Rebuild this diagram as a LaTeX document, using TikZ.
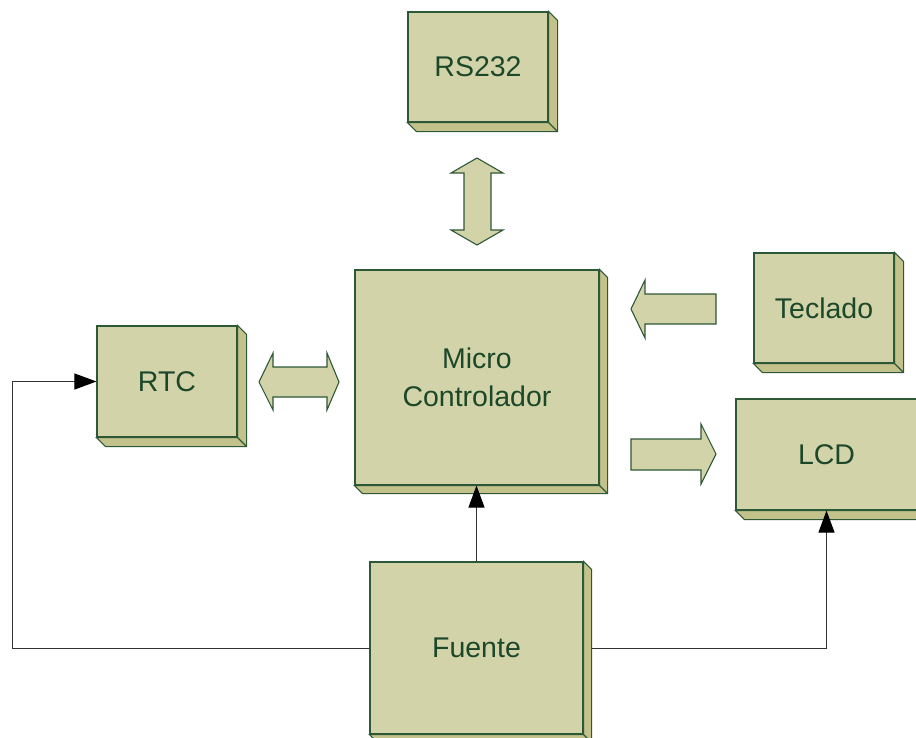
\documentclass[tikz,border=0pt]{standalone}
\usepackage{fontspec}
\setmainfont{Liberation Sans}
\usetikzlibrary{arrows.meta,calc}
\definecolor{face}{RGB}{211,211,169}
\definecolor{side}{RGB}{194,194,138}
\definecolor{edge}{RGB}{45,88,55}
\definecolor{txt}{RGB}{28,72,42}
\definecolor{wirec}{RGB}{50,50,50}
\tikzset{
 front/.style={draw=edge, fill=face, line width=1.1pt, text=txt, font=\fontsize{28.5}{38}\selectfont, align=center, inner sep=0pt},
 sideface/.style={draw=edge, fill=side, line width=1.1pt, line join=miter},
 blockarrow/.style={draw=edge, fill=face, line width=1.1pt, line join=miter},
 wire/.style={draw=wirec, line width=1pt, -{Triangle[length=22pt,width=16pt,color=black]}},
}
\newcommand\extrude[2]{%
 \path[sideface] (#1.north east) -- ++(#2,#2) -- ($(#1.south east)+(#2,#2)$) -- ($(#1.south west)+(#2,#2)$) -- (#1.south west) -- (#1.south east) -- cycle;
 \draw[sideface] (#1.south east) -- ++(#2,#2);
}
\begin{document}
\begin{tikzpicture}[x=1pt,y=-1pt]
\useasboundingbox (0,0) rectangle (916,737);
\clip (0,0) rectangle (916,737);
% boxes
\node[front, minimum width=140pt, minimum height=110pt] (rs) at (478,67) {RS232};
\extrude{rs}{9}
\node[front, minimum width=244pt, minimum height=215pt] (mc) at (477,377.5) {Micro\\Controlador};
\extrude{mc}{8}
\node[front, minimum width=140pt, minimum height=111pt] (rtc) at (167,381.5) {RTC};
\extrude{rtc}{9}
\node[front, minimum width=140pt, minimum height=110pt] (tec) at (824,308) {Teclado};
\extrude{tec}{9}
\node[front, minimum width=181pt, minimum height=111pt] (lcd) at (826.5,454.5) {LCD};
\extrude{lcd}{9}
\node[front, minimum width=213pt, minimum height=172pt] (fu) at (476.5,648) {Fuente};
\extrude{fu}{8}
% block arrows
\draw[blockarrow] (477,158) -- (503,173) -- (491,173) -- (491,230) -- (503,230) -- (477,245)
  -- (451,230) -- (464,230) -- (464,173) -- (451,173) -- cycle;
\draw[blockarrow] (259,382) -- (273,353) -- (273,367) -- (327,367) -- (327,353) -- (339,382)
  -- (327,410) -- (327,397) -- (273,397) -- (273,410) -- cycle;
\draw[blockarrow] (631,309) -- (645,280) -- (645,294) -- (716,294) -- (716,324) -- (645,324)
  -- (645,338) -- cycle;
\draw[blockarrow] (716,454) -- (701,424) -- (701,439) -- (631,439) -- (631,470) -- (701,470)
  -- (701,484) -- cycle;
% wires
\coordinate (lc) at (12,648);
\draw[wire] (fu.west) -- (fu.west -| lc) |- (rtc.west);
\draw[wire] ($(fu.east)+(8,0)$) -| (lcd.south);
\draw[wire] (fu.north) -- (fu.north |- mc.south);
\end{tikzpicture}
\end{document}
